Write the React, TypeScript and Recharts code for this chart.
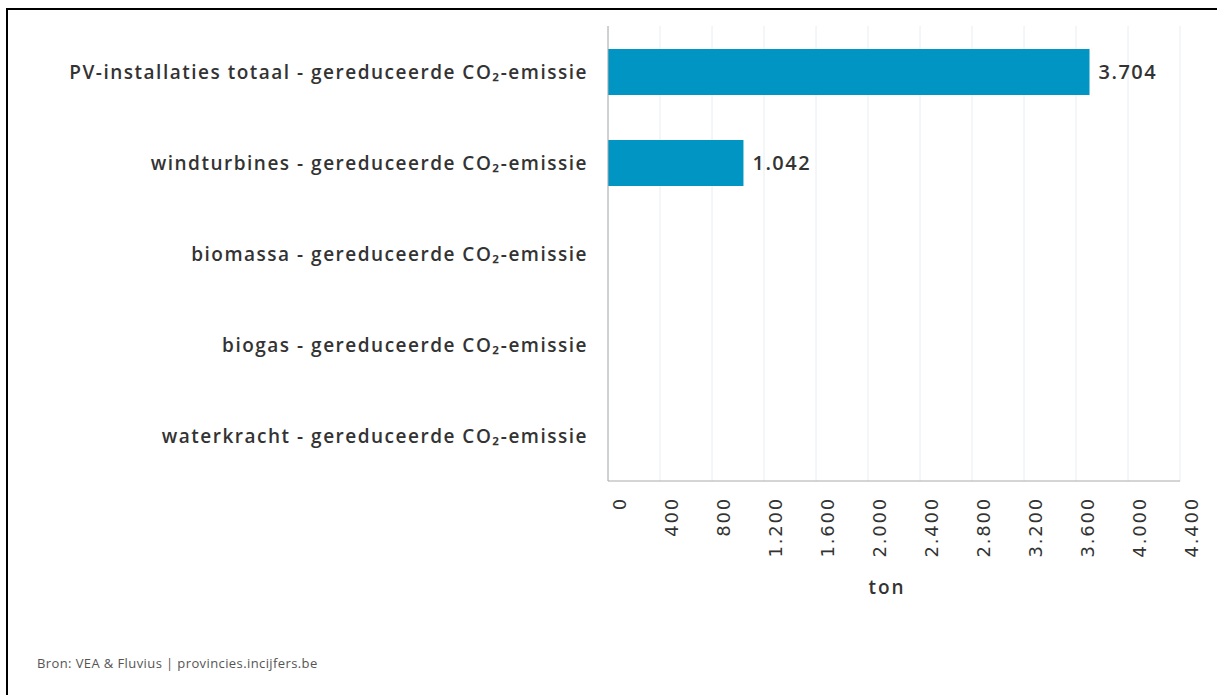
import { BarChart, Bar, XAxis, YAxis, CartesianGrid, LabelList } from 'recharts'

const categories = [
  'PV-installaties totaal - gereduceerde CO₂-emissie',
  'windturbines - gereduceerde CO₂-emissie',
  'biomassa - gereduceerde CO₂-emissie',
  'biogas - gereduceerde CO₂-emissie',
  'waterkracht - gereduceerde CO₂-emissie',
]
const values: (number | null)[] = [3704, 1042, null, null, null]
const xTicks = [0, 400, 800, 1200, 1600, 2000, 2400, 2800, 3200, 3600, 4000, 4400]

const data = categories.map((name, i) => ({ name, value: values[i] }))

const fmt = (v: number) => String(v).replace(/\B(?=(\d{3})+(?!\d))/g, '.')

const XTick = ({ x, y, payload }: any) => (
  <text
    x={x + 18}
    y={y + 8}
    transform={`rotate(-90 ${x + 18} ${y + 8})`}
    textAnchor="end"
    fill="#333"
    fontSize={18}
    letterSpacing={1.8}
    fontFamily="DejaVu Sans"
  >
    {fmt(payload.value)}
  </text>
)

const YTick = ({ x, y, payload }: any) => (
  <text
    x={x - 12}
    y={y}
    textAnchor="end"
    dominantBaseline="central"
    fill="#333"
    fontSize={19}
    fontWeight={600}
    letterSpacing={1.5}
    fontFamily="Open Sans"
  >
    {payload.value}
  </text>
)

export default function App() {
  return (
    <div style={{ position: 'absolute', left: 0, top: 0, width: 1217, height: 695, background: '#fff' }}>
      <div
        style={{
          position: 'absolute',
          left: 6,
          top: 8,
          right: 0,
          bottom: 0,
          borderTop: '2px solid #000',
          borderLeft: '2px solid #000',
        }}
      />
      <BarChart
        width={1217}
        height={695}
        data={data}
        layout="vertical"
        margin={{ top: 26, right: 37, left: 0, bottom: 84 }}
        style={{ position: 'absolute', left: 0, top: 0 }}
      >
        <CartesianGrid horizontal={false} stroke="#e6eef5" />
        <XAxis
          type="number"
          domain={[0, 4400]}
          ticks={xTicks}
          interval={0}
          height={130}
          stroke="#aaa"
          tickLine={false}
          tick={<XTick />}
          label={{
            value: 'ton',
            position: 'insideBottom',
            offset: 17,
            dx: -7,
            fill: '#333',
            fontSize: 19,
            fontWeight: 600,
            letterSpacing: 2,
            fontFamily: 'Open Sans',
          }}
        />
        <XAxis xAxisId="top" orientation="top" type="number" domain={[0, 4400]} height={0} tick={false} tickLine={false} stroke="#aaa" />
        <YAxis type="category" dataKey="name" width={608} stroke="#aaa" tickLine={false} tick={<YTick />} />
        <YAxis yAxisId="right" orientation="right" type="category" dataKey="name" width={0} tick={false} tickLine={false} stroke="#aaa" />
        <Bar dataKey="value" fill="#0095c2" barSize={46} isAnimationActive={false}>
          <LabelList
            dataKey="value"
            position="right"
            offset={9}
            fill="#333"
            fontSize={20}
            fontWeight={600}
            letterSpacing={1.5}
            fontFamily="Open Sans"
            formatter={(v: any) => (v == null ? '' : fmt(v))}
          />
        </Bar>
      </BarChart>
      <div
        style={{
          position: 'absolute',
          left: 37,
          top: 654,
          fontSize: 13,
          letterSpacing: 0.4,
          color: '#555',
          fontFamily: 'Open Sans',
        }}
      >
        Bron: VEA &amp; Fluvius | provincies.incijfers.be
      </div>
    </div>
  )
}
